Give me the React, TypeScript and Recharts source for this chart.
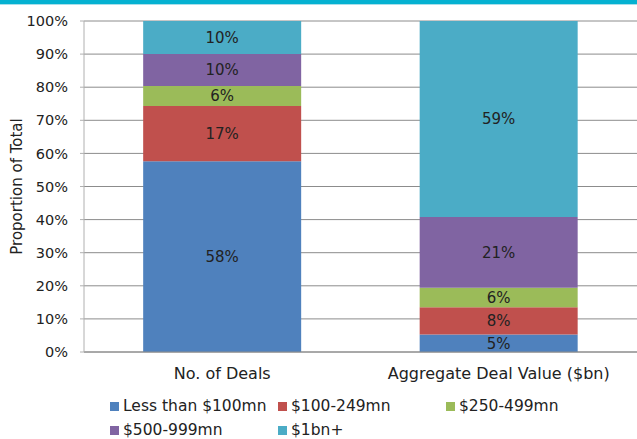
import { Bar, BarChart, CartesianGrid, LabelList, XAxis, YAxis } from 'recharts'

const categories = ['No. of Deals', 'Aggregate Deal Value ($bn)']
const seriesNames = ['Less than $100mn', '$100-249mn', '$250-499mn', '$500-999mn', '$1bn+']
const seriesColors = ['#4F81BD', '#C0504D', '#9BBB59', '#8064A2', '#4BACC6']
const lessThan100 = [57.6, 5.3]
const from100to249 = [16.7, 8.2]
const from250to499 = [6.1, 5.9]
const from500to999 = [9.6, 21.4]
const over1bn = [10.0, 59.2]
const yTicks = [0, 10, 20, 30, 40, 50, 60, 70, 80, 90, 100]

const seriesValues = [lessThan100, from100to249, from250to499, from500to999, over1bn]
const keys = ['s0', 's1', 's2', 's3', 's4']

const data = categories.map((name, i) => {
  const row: Record<string, string | number> = { name }
  seriesValues.forEach((vals, s) => {
    row[keys[s]] = vals[i]
  })
  return row
})

const font = '"DejaVu Sans", sans-serif'
const ink = '#222'

export default function App() {
  return (
    <div
      style={{
        position: 'absolute',
        left: 0,
        top: 0,
        width: 637,
        height: 439,
        background: '#fff',
        fontFamily: font,
      }}
    >
      <div style={{ position: 'absolute', left: 0, top: 0, width: 637, height: 4, background: '#05b1d1' }} />
      <div style={{ position: 'absolute', left: 0, top: 4, width: 637, height: 1, background: '#a8dfea' }} />
      <BarChart
        width={637}
        height={439}
        data={data}
        margin={{ top: 21, right: 0, left: 0, bottom: 57 }}
        barCategoryGap="21.4%"
      >
        <CartesianGrid stroke="#8c8c8c" vertical={false} />
        <XAxis
          dataKey="name"
          height={30}
          axisLine={{ stroke: '#8c8c8c' }}
          tickLine={false}
          tickSize={6}
          tickMargin={10}
          tick={{ fill: ink, fontSize: 16, fontFamily: font }}
          interval={0}
        />
        <YAxis
          width={84}
          domain={[0, 100]}
          ticks={yTicks}
          tickFormatter={(v) => `${v}%`}
          axisLine={{ stroke: '#b0b0b0' }}
          tickLine={{ stroke: '#b0b0b0' }}
          tickSize={4}
          tickMargin={12}
          tick={{ fill: ink, fontSize: 14.5, fontFamily: font }}
          label={{
            value: 'Proportion of Total',
            angle: -90,
            position: 'insideLeft',
            offset: 17,
            style: { textAnchor: 'middle', fill: ink, fontSize: 15, fontFamily: font },
          }}
        />
        {keys.map((k, s) => (
          <Bar key={k} dataKey={k} stackId="a" fill={seriesColors[s]} isAnimationActive={false}>
            <LabelList
              dataKey={k}
              position="center"
              formatter={(v: any) => `${Math.round(Number(v))}%`}
              style={{ fill: ink, fontSize: 15, fontFamily: font }}
            />
          </Bar>
        ))}
      </BarChart>
      {seriesNames.map((n, i) => (
        <div
          key={n}
          style={{
            position: 'absolute',
            left: 110 + (i % 3) * 168,
            top: i < 3 ? 397 : 421,
            display: 'flex',
            alignItems: 'center',
            fontSize: 15.5,
            color: ink,
            whiteSpace: 'nowrap',
          }}
        >
          <span style={{ display: 'inline-block', width: 9, height: 9, background: seriesColors[i], marginRight: 4 }} />
          {n}
        </div>
      ))}
    </div>
  )
}
